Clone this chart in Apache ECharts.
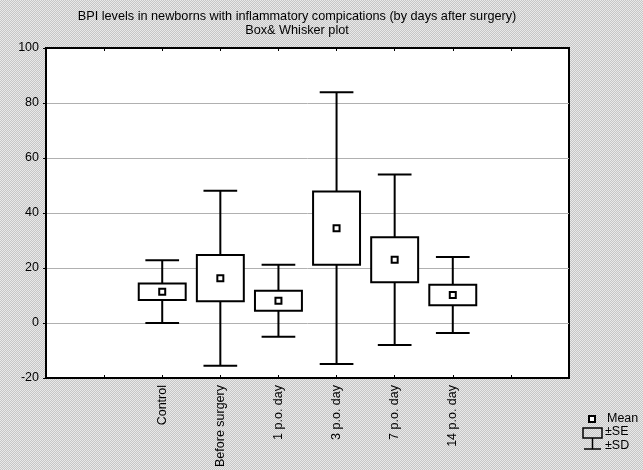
<!DOCTYPE html>
<html>
<head>
<meta charset="utf-8">
<script src="https://cdn.jsdelivr.net/npm/echarts@6/dist/echarts.min.js"></script>
<style>
html,body{margin:0;padding:0;}
#chart{width:643px;height:470px;
background:repeating-conic-gradient(#c6c6c6 0 25%, #e9e9e9 0 50%) 0 0/2px 2px;}
</style>
</head>
<body>
<div id="chart"></div>
<script>
// ---- data ----
const categories = ['Control', 'Before surgery', '1 p.o. day', '3 p.o. day', '7 p.o. day', '14 p.o. day'];
const means = [11.4, 16.3, 8.1, 34.5, 23.0, 10.2];
const se = [3.0, 8.4, 3.6, 13.3, 8.2, 3.7];
const sd = [11.4, 31.8, 13.1, 49.4, 31.0, 13.8];
const yTicks = [-20, 0, 20, 40, 60, 80, 100];
const titleLine1 = 'BPI levels in newborns with inflammatory compications (by days after surgery)';
const titleLine2 = 'Box& Whisker plot';
const legendLabels = ['Mean', '\u00b1SE', '\u00b1SD'];

const FONT = '"Liberation Sans", Arial, sans-serif';
const chart = echarts.init(document.getElementById('chart'), null, {renderer: 'canvas'});

const seriesData = categories.map((c, i) => [i + 2, means[i], se[i], sd[i]]);

function renderItem(params, api) {
  const x = api.value(0), m = api.value(1), s = api.value(2), d = api.value(3);
  const boxHalf = api.size([0.404, 0])[0];
  const capHalf = api.size([0.29, 0])[0];
  const pTopSD = api.coord([x, m + d]);
  const pBotSD = api.coord([x, m - d]);
  const pTopSE = api.coord([x, m + s]);
  const pBotSE = api.coord([x, m - s]);
  const pM = api.coord([x, m]);
  const cx = pM[0];
  const ls = {stroke: '#000', lineWidth: 2, fill: null};
  return {
    type: 'group',
    children: [
      {type: 'line', shape: {x1: cx, y1: pTopSD[1], x2: cx, y2: pTopSE[1]}, style: ls},
      {type: 'line', shape: {x1: cx, y1: pBotSE[1], x2: cx, y2: pBotSD[1]}, style: ls},
      {type: 'line', shape: {x1: cx - capHalf, y1: pTopSD[1], x2: cx + capHalf, y2: pTopSD[1]}, style: ls},
      {type: 'line', shape: {x1: cx - capHalf, y1: pBotSD[1], x2: cx + capHalf, y2: pBotSD[1]}, style: ls},
      {type: 'rect', shape: {x: cx - boxHalf, y: pTopSE[1], width: boxHalf * 2, height: pBotSE[1] - pTopSE[1]},
        style: {stroke: '#000', lineWidth: 2, fill: '#fff'}},
      {type: 'rect', shape: {x: cx - 3, y: pM[1] - 3, width: 6, height: 6},
        style: {stroke: '#000', lineWidth: 2, fill: '#fff'}}
    ]
  };
}

const option = {
  animation: false,
  grid: {left: 46, right: 74, top: 48, bottom: 87, show: true, backgroundColor: '#fff',
         borderColor: '#000', borderWidth: 2},
  xAxis: [{
    type: 'value', min: 0, max: 9, interval: 1, position: 'bottom',
    axisLine: {show: true, onZero: false, lineStyle: {color: '#000', width: 2}},
    axisTick: {show: true, inside: true, length: 3, lineStyle: {color: '#000', width: 1}},
    splitLine: {show: false},
    axisLabel: {
      rotate: 90, margin: 7, color: '#000', fontSize: 12.5, fontFamily: FONT,
      showMinLabel: true, showMaxLabel: true,
      formatter: v => {
        const i = Math.round(v) - 2;
        return (i >= 0 && i < categories.length) ? categories[i] : '';
      }
    }
  }, {
    type: 'value', min: 0, max: 9, interval: 1, position: 'top',
    axisLine: {show: true, onZero: false, lineStyle: {color: '#000', width: 2}},
    axisTick: {show: true, inside: true, length: 3, lineStyle: {color: '#000', width: 1}},
    splitLine: {show: false},
    axisLabel: {show: false}
  }],
  yAxis: {
    type: 'value', min: yTicks[0], max: yTicks[yTicks.length - 1], interval: 20,
    axisLine: {show: true, onZero: false, lineStyle: {color: '#000', width: 2}},
    axisTick: {show: true, inside: false, length: 3, lineStyle: {color: '#000', width: 1}},
    splitLine: {show: true, lineStyle: {color: '#b0b0b0', width: 1}},
    axisLabel: {margin: 7, color: '#000', fontSize: 12.5, fontFamily: FONT}
  },
  series: [{
    type: 'custom',
    renderItem: renderItem,
    data: seriesData,
    encode: {x: 0, y: 1},
    z: 10
  }],
  graphic: [
    {type: 'text', x: 297, y: 16, style: {text: titleLine1, align: 'center', verticalAlign: 'middle',
      font: '12.7px ' + FONT, fill: '#000'}},
    {type: 'text', x: 297, y: 30, style: {text: titleLine2, align: 'center', verticalAlign: 'middle',
      font: '12.7px ' + FONT, fill: '#000'}},
    // legend
    {type: 'rect', shape: {x: 589, y: 416, width: 6, height: 6}, style: {stroke: '#000', lineWidth: 2, fill: '#fff'}},
    {type: 'text', x: 607, y: 419, style: {text: legendLabels[0], verticalAlign: 'middle', font: '12.5px ' + FONT, fill: '#000'}},
    {type: 'rect', shape: {x: 583, y: 428, width: 19, height: 10}, style: {stroke: '#000', lineWidth: 1.5, fill: null}},
    {type: 'text', x: 605, y: 432, style: {text: legendLabels[1], verticalAlign: 'middle', font: '12.5px ' + FONT, fill: '#000'}},
    {type: 'line', shape: {x1: 592.5, y1: 438, x2: 592.5, y2: 449}, style: {stroke: '#000', lineWidth: 1.5}},
    {type: 'line', shape: {x1: 584, y1: 449, x2: 601, y2: 449}, style: {stroke: '#000', lineWidth: 1.5}},
    {type: 'text', x: 605, y: 446, style: {text: legendLabels[2], verticalAlign: 'middle', font: '12.5px ' + FONT, fill: '#000'}}
  ]
};
chart.setOption(option);
</script>
</body>
</html>
